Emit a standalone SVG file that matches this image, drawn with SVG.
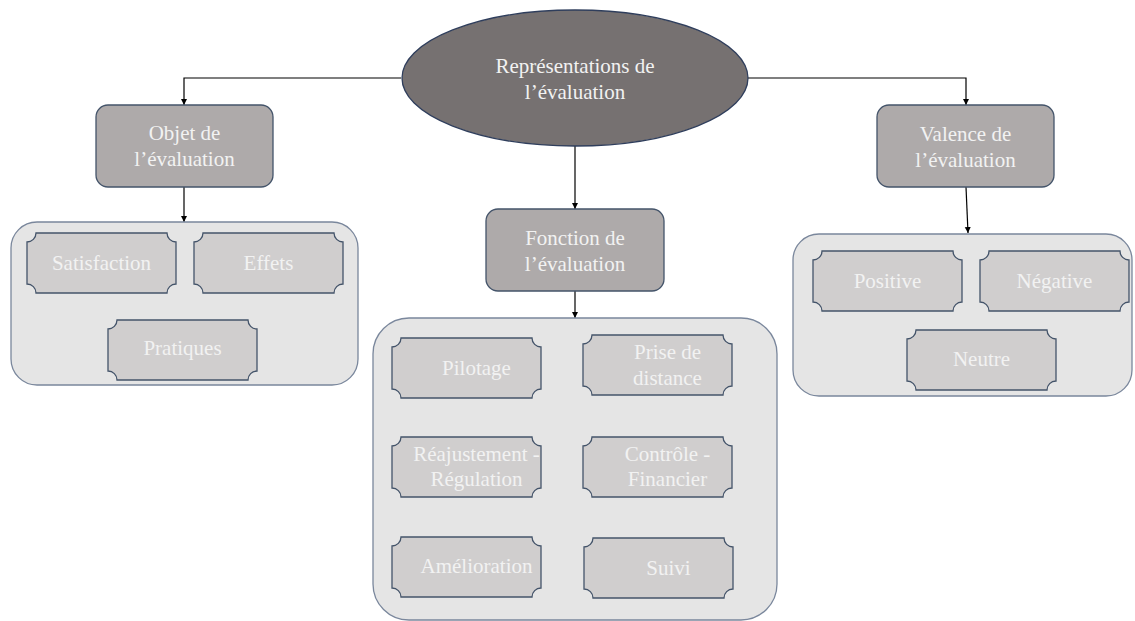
<svg xmlns="http://www.w3.org/2000/svg" xmlns:xlink="http://www.w3.org/1999/xlink" width="1135" height="621" viewBox="0 0 1135 621">
<style>
text{font-family:"Liberation Serif","Times New Roman",serif;font-size:21px;fill:#F2F2F2;text-anchor:middle}
.ell{fill:#767171;stroke:#2F3E5C;stroke-width:1.3}
.box{fill:#AEAAAA;stroke:#44546A;stroke-width:1.3}
.cont{fill:#E5E5E5;stroke:#7A879C;stroke-width:1.3}
.pl{fill:#D0CECE;stroke:#44546A;stroke-width:1.3}
.conn{fill:none;stroke:#000;stroke-width:1.2;marker-end:url(#arr)}
</style>
<defs>
<marker id="arr" viewBox="0 0 10 10" refX="10" refY="5" markerWidth="6" markerHeight="7" markerUnits="userSpaceOnUse" orient="auto">
<path d="M0,0 L10,5 L0,10 Z" fill="#000"/>
</marker>
<path id="plaque" class="pl" d="M9,0 H140 A9,9 0 0 0 149,9 V51 A9,9 0 0 0 140,60 H9 A9,9 0 0 0 0,51 V9 A9,9 0 0 0 9,0 Z"/>
</defs>
<rect width="1135" height="621" fill="#fff"/>
<g id="connectors">
<path class="conn" d="M401,78 H184 V105"/>
<path class="conn" d="M748,78 H966 V105"/>
<path class="conn" d="M575,146 V209"/>
<path class="conn" d="M184,187 V222"/>
<path class="conn" d="M575,291 V318"/>
<path class="conn" d="M966,187 L968,233"/>
</g>
<g id="root">
<ellipse class="ell" cx="575" cy="78" rx="173" ry="68"/>
<text x="575" y="73">Représentations de</text>
<text x="575" y="99">l’évaluation</text>
</g>
<g id="objet">
<rect class="box" x="96" y="105" width="177" height="82" rx="12"/>
<text x="184.5" y="140">Objet de</text>
<text x="184.5" y="166">l’évaluation</text>
</g>
<g id="fonction">
<rect class="box" x="486" y="209" width="178" height="82" rx="12"/>
<text x="575" y="245">Fonction de</text>
<text x="575" y="271">l’évaluation</text>
</g>
<g id="valence">
<rect class="box" x="877" y="105" width="177" height="82" rx="12"/>
<text x="965.5" y="141">Valence de</text>
<text x="965.5" y="167">l’évaluation</text>
</g>
<g id="objet-group">
<rect class="cont" x="11" y="222" width="347" height="163" rx="26"/>
</g>
<g id="satisfaction"><use xlink:href="#plaque" href="#plaque" x="27" y="233"/><text x="101.5" y="270">Satisfaction</text></g>
<g id="effets"><use xlink:href="#plaque" href="#plaque" x="194" y="233"/><text x="268.5" y="270">Effets</text></g>
<g id="pratiques"><use xlink:href="#plaque" href="#plaque" x="108" y="320"/><text x="182.5" y="355">Pratiques</text></g>
<g id="fonction-group">
<rect class="cont" x="373" y="318" width="404" height="302" rx="36"/>
</g>
<g id="pilotage"><use xlink:href="#plaque" href="#plaque" x="392" y="338"/><text x="476.5" y="375">Pilotage</text></g>
<g id="prise"><use xlink:href="#plaque" href="#plaque" x="583" y="335"/><text x="667.5" y="359">Prise de</text><text x="667.5" y="385">distance</text></g>
<g id="reajustement"><use xlink:href="#plaque" href="#plaque" x="392" y="437"/><text x="476.5" y="461">Réajustement -</text><text x="476.5" y="486">Régulation</text></g>
<g id="controle"><use xlink:href="#plaque" href="#plaque" x="583" y="437"/><text x="667.5" y="461">Contrôle -</text><text x="667.5" y="486">Financier</text></g>
<g id="amelioration"><use xlink:href="#plaque" href="#plaque" x="392" y="537"/><text x="476.5" y="573">Amélioration</text></g>
<g id="suivi"><use xlink:href="#plaque" href="#plaque" x="584" y="538"/><text x="668.5" y="575">Suivi</text></g>
<g id="valence-group">
<rect class="cont" x="793" y="234" width="339" height="162" rx="26"/>
</g>
<g id="positive"><use xlink:href="#plaque" href="#plaque" x="813" y="251"/><text x="887.5" y="288">Positive</text></g>
<g id="negative"><use xlink:href="#plaque" href="#plaque" x="980" y="251"/><text x="1054.5" y="288">Négative</text></g>
<g id="neutre"><use xlink:href="#plaque" href="#plaque" x="907" y="330"/><text x="981.5" y="366">Neutre</text></g>
</svg>
